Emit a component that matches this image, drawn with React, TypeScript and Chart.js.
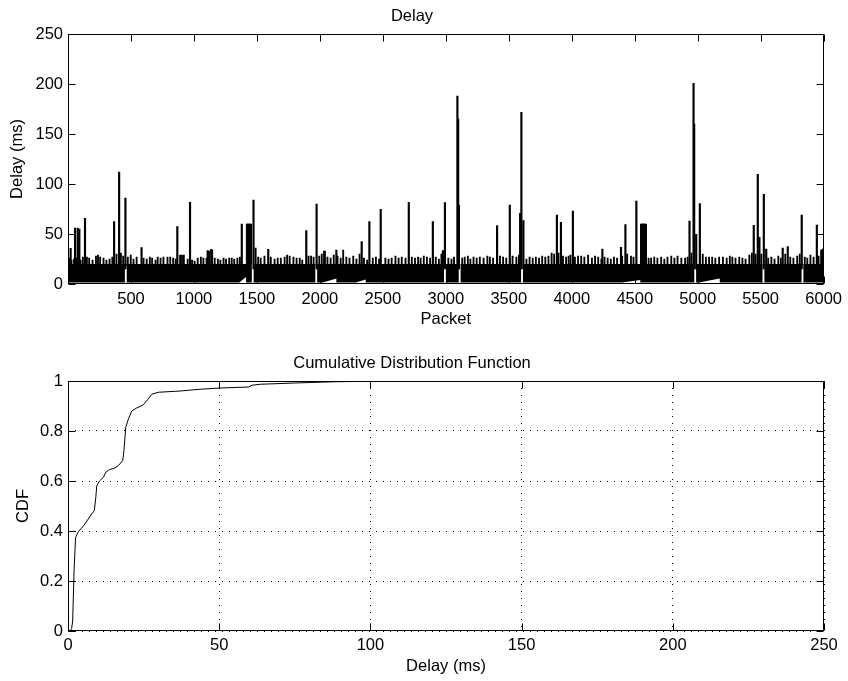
import React, { useEffect, useRef } from 'react';
import { Chart, registerables } from 'chart.js';

Chart.register(...registerables);

// ---------- Top chart: delay per packet ----------
const packetTicks = [500, 1000, 1500, 2000, 2500, 3000, 3500, 4000, 4500, 5000, 5500, 6000];
const delayTicks = [0, 50, 100, 150, 200, 250];

// upper edge of the dense band (ms)
const bandTopPacket = [0, 1415, 1416, 1455, 1456, 4545, 4546, 4592, 4593, 6000];
const bandTopDelay = [19.5, 19.5, 60, 60, 19.5, 19.5, 60, 60, 19.5, 19.5];

// lower edge of the dense band (ms)
const bandBottomPacket = [0, 1360, 1414, 1415, 2024, 2131, 2132, 2285, 2364, 2365, 4400, 4544, 4545, 5010, 5175, 5176, 6000];
const bandBottomDelay = [1.5, 1.5, 7, 1.5, 1.5, 5.5, 1.5, 1.5, 4.5, 1.5, 1.5, 4, 1.5, 1.5, 5.5, 1.5, 1.5];

// tall isolated spikes
const spikePacket = [21, 56, 77, 90, 135, 366, 406, 456, 584, 868, 969, 1109, 1137, 1380, 1473, 1590, 1892, 1974, 2034, 2131, 2332, 2393, 2483, 2706, 2897, 2977, 2993, 3092, 3098, 3104, 3407, 3508, 3590, 3600, 3616, 3882, 3914, 4009, 4243, 4391, 4426, 4513, 4935, 4967, 4972, 4988, 5017, 5445, 5477, 5490, 5525, 5544, 5675, 5715, 5826, 5946, 5993];
const spikeDelay = [35.7, 56, 56, 55, 65.7, 62.3, 112, 86, 36.3, 57.3, 81.7, 33.3, 34.7, 60, 84, 34.7, 53.3, 80, 33, 34, 42.3, 62.3, 74.7, 81.7, 62.3, 33.3, 81.3, 188, 165, 79, 58.3, 79, 70.7, 171.7, 63.3, 69, 61.7, 73, 35, 36.7, 59.3, 83, 63, 200.7, 160, 49.7, 80.3, 58.7, 109.7, 46.7, 89.7, 35, 36, 37.3, 69, 59, 35];

// small teeth on top of the band
const toothPacket = [12, 28, 48, 66, 100, 118, 150, 168, 195, 222, 238, 255, 282, 305, 330, 352, 385, 420, 438, 475, 498, 520, 545, 600, 625, 650, 668, 695, 712, 735, 758, 790, 812, 835, 855, 890, 905, 920, 950, 985,
  1005, 1030, 1055, 1075, 1100, 1120, 1145, 1165, 1190, 1210, 1235, 1255, 1280, 1300, 1320, 1345, 1365, 1490, 1510, 1530, 1560, 1610, 1640, 1665, 1690, 1720, 1740, 1760, 1790, 1815, 1840, 1860, 1910, 1930, 1950, 1995,
  2015, 2040, 2060, 2085, 2110, 2140, 2165, 2185, 2210, 2235, 2265, 2290, 2315, 2350, 2375, 2420, 2445, 2470, 2520, 2545, 2570, 2600, 2625, 2650, 2680, 2730, 2755, 2780, 2800, 2825, 2850, 2875, 2920, 2945, 2965,
  3020, 3045, 3065, 3130, 3150, 3175, 3195, 3220, 3245, 3270, 3300, 3330, 3350, 3375, 3430, 3455, 3480, 3530, 3560, 3580, 3640, 3665, 3690, 3715, 3740, 3765, 3790, 3815, 3840, 3860, 3895, 3930, 3955, 3975, 3990,
  4025, 4050, 4075, 4100, 4130, 4160, 4185, 4210, 4235, 4260, 4285, 4310, 4335, 4360, 4400, 4440, 4470, 4490, 4610, 4630, 4655, 4680, 4710, 4735, 4760, 4790, 4815, 4840, 4870, 4900, 4920, 4950,
  5040, 5065, 5090, 5115, 5140, 5170, 5200, 5230, 5255, 5275, 5300, 5330, 5355, 5380, 5410, 5430, 5460, 5505, 5560, 5585, 5610, 5640, 5660, 5695, 5735, 5760, 5790, 5810, 5850, 5870, 5895, 5920, 5960, 5980];
const toothDelay = [26, 24, 25, 26, 24, 27, 27, 26, 24, 28, 29, 27, 26, 24, 25, 27, 30, 31, 28, 27, 29, 25, 27, 26, 25, 27, 26, 24, 27, 26, 27, 27, 27, 26, 25, 29, 29, 29, 25, 24,
  23, 26, 27, 26, 26, 33, 34, 26, 25, 24, 26, 25, 26, 26, 25, 26, 27, 36, 27, 26, 28, 27, 25, 26, 26, 27, 29, 28, 27, 26, 26, 24, 28, 28, 27, 28,
  30, 33, 27, 26, 29, 28, 26, 34, 27, 26, 28, 25, 30, 26, 24, 26, 27, 25, 26, 25, 26, 28, 26, 27, 26, 27, 26, 27, 26, 28, 27, 26, 27, 25, 30,
  26, 25, 27, 26, 27, 28, 25, 27, 26, 27, 26, 28, 27, 26, 28, 27, 26, 28, 27, 29, 25, 27, 26, 27, 26, 28, 27, 28, 31, 30, 31, 28, 27, 28, 29,
  27, 28, 28, 27, 29, 26, 28, 27, 25, 27, 26, 25, 27, 26, 28, 30, 28, 27, 26, 26, 27, 26, 27, 25, 27, 28, 26, 28, 26, 26, 27, 31,
  30, 27, 27, 27, 26, 27, 27, 26, 28, 27, 26, 27, 26, 25, 29, 31, 30, 30, 26, 27, 25, 28, 26, 30, 27, 26, 28, 30, 27, 26, 29, 27, 28, 34];

// thin white gaps cutting through the band
const gapPacket = [459, 1467, 1971, 2993, 3110, 3605, 4980, 5522, 5832];
const gapTop = [18, 19.5, 19.5, 19.5, 19.5, 19.5, 19.5, 19.5, 19.5];

// ---------- Bottom chart: CDF ----------
const cdfDelay = [0, 0.7, 1.2, 1.55, 2.0, 2.5, 3.4, 5.1, 6.7, 7.8, 8.7, 9.2, 9.5, 10.4, 11.7, 12.5, 13.7, 15.2, 16.7, 18.1, 18.5, 19.1, 20.0, 21.1, 22.7, 24.9, 26.3, 27.7, 29.9, 37.1, 43.7, 50.3, 59.7, 60.8, 63.6, 75, 88, 100, 120, 201];
const cdfValue = [0, 0, 0.01, 0.04, 0.24, 0.374, 0.397, 0.42, 0.448, 0.468, 0.481, 0.535, 0.58, 0.6, 0.615, 0.635, 0.646, 0.65, 0.662, 0.682, 0.722, 0.815, 0.849, 0.88, 0.892, 0.905, 0.925, 0.947, 0.955, 0.96, 0.967, 0.972, 0.976, 0.983, 0.987, 0.992, 0.997, 0.999, 1, 1];
const cdfXTicks = [0, 50, 100, 150, 200, 250];
const cdfYTicks = [0, 0.2, 0.4, 0.6, 0.8, 1];

const FONT = "'Liberation Sans', Arial, Helvetica, sans-serif";
const FS = 16.5;

const framePlugin = {
  id: 'frame',
  afterDatasetsDraw(chart: any) {
    const { ctx, chartArea: a, scales } = chart;
    const tick = 7;
    ctx.save();
    ctx.strokeStyle = '#000';
    ctx.lineWidth = 1;
    const L = Math.round(a.left) + 0.5;
    const R = Math.round(a.right) - 0.5;
    const T = Math.round(a.top) + 0.5;
    const B = Math.round(a.bottom) - 0.5;
    ctx.strokeRect(L, T, R - L, B - T);
    ctx.beginPath();
    for (const t of scales.x.ticks) {
      const px = Math.round(scales.x.getPixelForValue(t.value)) + 0.5;
      ctx.moveTo(px, B); ctx.lineTo(px, B - tick);
      ctx.moveTo(px, T); ctx.lineTo(px, T + tick);
    }
    for (const t of scales.y.ticks) {
      const py = Math.round(scales.y.getPixelForValue(t.value)) + 0.5;
      ctx.moveTo(L, py); ctx.lineTo(L + tick, py);
      ctx.moveTo(R, py); ctx.lineTo(R - tick, py);
    }
    ctx.stroke();
    ctx.restore();
  },
};

const xy = (xs: number[], ys: number[]) => xs.map((x, i) => ({ x, y: ys[i] }));
const ranges = (xs: number[], lo: number, hi: number[]) => xs.map((x, i) => ({ x, y: [lo, hi[i]] }));

export default function App() {
  const topRef = useRef<HTMLCanvasElement>(null);
  const botRef = useRef<HTMLCanvasElement>(null);

  useEffect(() => {
    Chart.defaults.font.family = FONT;
    Chart.defaults.font.size = FS;
    Chart.defaults.color = '#000';

    const top = new Chart(topRef.current as HTMLCanvasElement, {
      type: 'line',
      data: {
        datasets: [
          { type: 'line', data: xy(bandTopPacket, bandTopDelay), borderColor: '#000', borderWidth: 1, backgroundColor: '#000', fill: '+1', pointRadius: 0, tension: 0, order: 5 } as any,
          { type: 'line', data: xy(bandBottomPacket, bandBottomDelay), borderColor: '#000', borderWidth: 0, pointRadius: 0, fill: false, tension: 0, order: 6 } as any,
          { type: 'bar', data: ranges(gapPacket, 1.5, gapTop), backgroundColor: '#fff', barThickness: 1.2, grouped: false, order: 3 } as any,
          { type: 'bar', data: ranges(toothPacket, 15, toothDelay), backgroundColor: '#000', barThickness: 1.2, grouped: false, order: 2 } as any,
          { type: 'bar', data: ranges(spikePacket, 15, spikeDelay), backgroundColor: '#000', barThickness: 1.5, grouped: false, order: 1 } as any,
        ],
      },
      options: {
        responsive: false,
        animation: false,
        devicePixelRatio: 1,
        layout: { padding: { left: 0, right: 24, top: 0, bottom: 0 } },
        plugins: {
          legend: { display: false },
          tooltip: { enabled: false },
          title: { display: true, text: 'Delay', color: '#000', font: { size: FS, weight: 'normal' }, padding: { top: 6.6, bottom: 7.6 } },
        },
        scales: {
          x: {
            type: 'linear', min: 0, max: 6000, offset: false,
            afterBuildTicks: (s: any) => { s.ticks = packetTicks.map((v) => ({ value: v })); },
            afterFit: (s: any) => { s.height = 56; },
            grid: { display: false, drawTicks: false },
            border: { display: false },
            ticks: { color: '#000', padding: 6, maxRotation: 0, autoSkip: false, callback: (v: any) => String(v) },
            title: { display: true, text: 'Packet', color: '#000', font: { size: FS }, padding: { top: 0, bottom: 10.6 } },
          },
          y: {
            type: 'linear', min: 0, max: 250,
            afterBuildTicks: (s: any) => { s.ticks = delayTicks.map((v) => ({ value: v })); },
            afterFit: (s: any) => { s.width = 68; },
            grid: { display: false, drawTicks: false },
            border: { display: false },
            ticks: { color: '#000', padding: 5, callback: (v: any) => String(v) },
            title: { display: true, text: 'Delay (ms)', color: '#000', font: { size: FS }, padding: { top: 8, bottom: 0 } },
          },
        },
      } as any,
      plugins: [framePlugin],
    });

    const bot = new Chart(botRef.current as HTMLCanvasElement, {
      type: 'line',
      data: {
        datasets: [
          { data: xy(cdfDelay, cdfValue), borderColor: '#000', borderWidth: 1, pointRadius: 0, fill: false, tension: 0 },
        ],
      },
      options: {
        responsive: false,
        animation: false,
        devicePixelRatio: 1,
        layout: { padding: { left: 0, right: 24, top: 0, bottom: 0 } },
        plugins: {
          legend: { display: false },
          tooltip: { enabled: false },
          title: { display: true, text: 'Cumulative Distribution Function', color: '#000', font: { size: FS, weight: 'normal' }, padding: { top: 13.6, bottom: 7.6 } },
        },
        scales: {
          x: {
            type: 'linear', min: 0, max: 250, offset: false,
            afterBuildTicks: (s: any) => { s.ticks = cdfXTicks.map((v) => ({ value: v })); },
            afterFit: (s: any) => { s.height = 50; },
            grid: { display: true, drawTicks: false, color: '#000', lineWidth: 1 },
            border: { display: false, dash: [1, 6] },
            ticks: { color: '#000', padding: 5, maxRotation: 0, autoSkip: false, callback: (v: any) => String(v) },
            title: { display: true, text: 'Delay (ms)', color: '#000', font: { size: FS }, padding: { top: 0, bottom: 4.9 } },
          },
          y: {
            type: 'linear', min: 0, max: 1,
            afterBuildTicks: (s: any) => { s.ticks = cdfYTicks.map((v) => ({ value: v })); },
            afterFit: (s: any) => { s.width = 68; },
            grid: { display: true, drawTicks: false, color: '#000', lineWidth: 1 },
            border: { display: false, dash: [1, 6] },
            ticks: { color: '#000', padding: 5, callback: (v: any) => String(v) },
            title: { display: true, text: 'CDF', color: '#000', font: { size: FS }, padding: { top: 13.6, bottom: 0 } },
          },
        },
      } as any,
      plugins: [framePlugin],
    });

    return () => { top.destroy(); bot.destroy(); };
  }, []);

  return (
    <div style={{ position: 'absolute', left: 0, top: 0, width: 848, height: 681, background: '#fff' }}>
      <canvas ref={topRef} width={848} height={340} style={{ position: 'absolute', left: 0, top: 0, width: 848, height: 340 }} />
      <canvas ref={botRef} width={848} height={341} style={{ position: 'absolute', left: 0, top: 340, width: 848, height: 341 }} />
    </div>
  );
}
